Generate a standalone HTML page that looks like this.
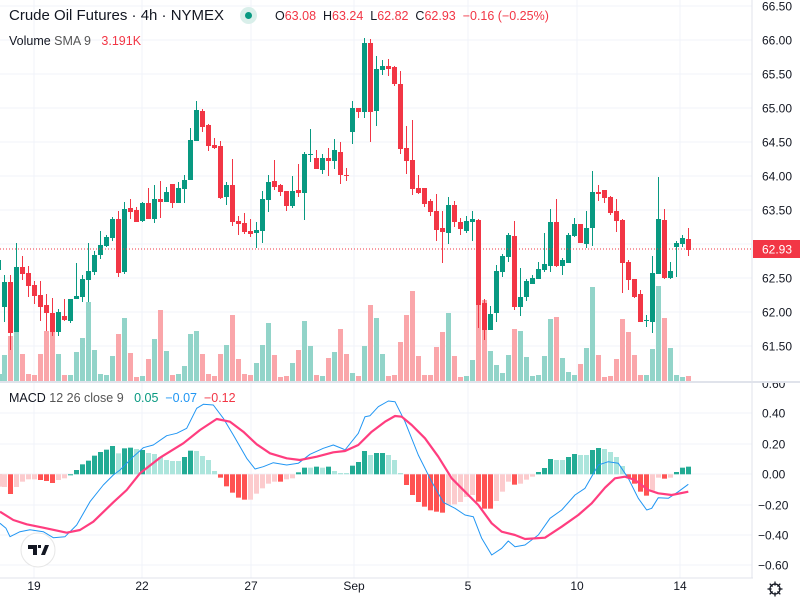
<!DOCTYPE html>
<html><head><meta charset="utf-8"><style>
body{margin:0;width:800px;height:600px;overflow:hidden;background:#fff;font-family:"Liberation Sans",sans-serif;}
svg{position:absolute;left:0;top:0}
.t{position:absolute;white-space:nowrap;color:#131722}
</style></head><body>
<svg id="s" width="800" height="600" xmlns="http://www.w3.org/2000/svg"></svg>
<div class="t" style="left:9px;top:7px;font-size:15px">Crude Oil Futures · 4h · NYMEX</div>
<div style="position:absolute;left:240px;top:7px;width:17px;height:17px;border-radius:50%;background:#d9efea"></div>
<div style="position:absolute;left:245px;top:12px;width:7px;height:7px;border-radius:50%;background:#089981"></div>
<div class="t" style="left:275px;top:9px;font-size:12.5px">O<span style="color:#F23645">63.08</span>&nbsp;&nbsp;H<span style="color:#F23645">63.24</span>&nbsp;&nbsp;L<span style="color:#F23645">62.82</span>&nbsp;&nbsp;C<span style="color:#F23645">62.93</span>&nbsp;&nbsp;<span style="color:#F23645">−0.16 (−0.25%)</span></div>
<div class="t" style="left:9px;top:34px;font-size:12.5px">Volume <span style="color:#555">SMA 9</span>&nbsp;&nbsp;&nbsp;<span style="color:#F23645">3.191K</span></div>
<div class="t" style="left:9px;top:391px;font-size:12.5px">MACD <span style="color:#555">12 26 close 9</span>&nbsp;&nbsp;&nbsp;<span style="color:#089981">0.05</span>&nbsp;&nbsp;<span style="color:#2196f3">−0.07</span>&nbsp;&nbsp;<span style="color:#F23645">−0.12</span></div>
<script>
var S=document.getElementById('s'),h='';
function r(x,y,w,hh,c){h+='<rect x="'+x+'" y="'+y+'" width="'+w+'" height="'+hh+'" fill="'+c+'"/>';}
function l(x1,y1,x2,y2,c,w,d){h+='<line x1="'+x1+'" y1="'+y1+'" x2="'+x2+'" y2="'+y2+'" stroke="'+c+'" stroke-width="'+(w||1)+'"'+(d?' stroke-dasharray="'+d+'"':'')+'/>';}
function tx(x,y,s,c,sz,a){h+='<text x="'+x+'" y="'+y+'" fill="'+(c||'#131722')+'" font-size="'+(sz||12)+'" font-family="Liberation Sans,sans-serif"'+(a?' text-anchor="'+a+'"':'')+'>'+s+'</text>';}
var G='#f0f3fa';
[6,40,74,108,142,176,210,244,278,312,346].forEach(function(y){l(0,y,752,y,G);});
[413,444,474,505,535,565].forEach(function(y){l(0,y,752,y,G);});
[34,142,251,354,468,577,680].forEach(function(x){l(x,0,x,578,G);});
var C=[['g',307,282,275,322],['r',282,333,275,350],['g',332,267,243,332],['r',267,274,256,280],['r',273,286,266,297],['r',285,296,281,304],['r',295,307,281,321],['r',305,313,294,331],['r',313,332,298,336],['g',332,312,309,336],
['r',316,320,299,321],['g',321,299,299,323],['g',299,296,263,299],['g',297,279,275,302],['g',280,271,243,302],['g',272,255,251,275],['g',255,245,231,259],['g',246,237,235,247],['g',238,219,217,241],['r',219,273,211,277],
['g',272,209,202,274],['r',208,212,199,219],['r',210,222,207,222],['g',221,203,202,222],['r',203,219,188,219],['g',219,199,185,223],['r',199,202,181,218],['g',202,192,187,202],['r',184,203,184,208],['g',203,188,182,203],
['g',189,180,175,203],['g',180,140,128,180],['g',141,110,101,141],['r',111,127,109,132],['r',125,146,124,151],['r',145,148,138,149],['r',146,198,141,199],['g',197,185,182,205],['r',185,222,159,226],['r',221,224,216,235],
['r',223,232,213,234],['r',231,234,219,237],['g',233,230,222,248],['g',231,199,191,243],['g',200,182,175,212],['r',181,187,160,190],['r',185,192,184,196],['r',191,206,191,211],['g',206,191,176,208],['r',190,193,164,197],
['g',193,154,152,220],['g',155,154,129,162],['r',158,169,150,169],['g',170,158,154,174],['r',158,161,148,176],['g',161,150,139,169],['r',152,175,142,184],['r',175,176,168,181],['g',132,108,101,144],['r',108,112,108,118],
['g',112,43,38,118],['r',43,112,39,142],['g',111,69,56,126],['g',70,66,60,75],['r',66,69,59,76],['r',67,84,66,86],['r',84,149,71,154],['r',148,161,126,174],['r',160,189,120,195],['r',188,193,175,194],
['r',188,204,188,207],['r',201,212,199,216],['r',211,230,194,241],['r',228,232,211,263],['g',233,205,197,244],['r',205,222,201,227],['r',222,229,218,235],['g',231,221,216,233],['g',222,219,211,241],['r',220,305,219,328],
['r',303,330,299,340],['g',330,314,306,330],['g',313,271,265,322],['g',272,256,254,277],['g',257,235,233,262],['r',236,307,221,310],['g',307,297,268,316],['g',297,281,279,301],['g',284,278,275,284],['g',279,269,262,279],
['g',270,264,233,272],['g',266,222,209,272],['r',222,266,199,267],['g',266,260,258,275],['g',263,235,233,263],['g',236,224,218,237],['r',224,243,224,243],['g',244,228,211,248],['g',228,192,171,246],['r',192,194,185,201],
['r',190,198,190,203],['r',197,213,196,215],['r',211,221,199,232],['r',220,263,219,293],['r',262,280,260,290],['r',279,297,279,298],['r',294,322,290,322],['g',321,320,315,327],['g',322,273,256,333],['g',274,219,177,274],
['r',220,278,209,279],['g',278,271,262,279],['g',247,243,241,277],['g',244,238,235,247],['r',239,250,228,256]];
var V=[['g',225],['r',168],['g',155],['r',222],['r',282],['r',285],['r',222],['r',153],['r',153],['g',222],['r',285],['g',285],['g',216],['g',174],['g',66],['g',210],['g',282],['g',285],['g',228],['r',162],['g',114],['r',219],['r',291],['g',288],['r',237],['g',177],['r',90],['g',213],['r',285],['g',282],['g',258],['g',162],['g',153],['r',222],['r',282],['r',288],['r',222],['g',195],['r',105],['r',237],['r',282],['r',285],['g',249],['g',195],['g',129],['r',225],['r',291],['r',288],['g',249],['r',210],['g',123],['g',198],['r',285],['g',288],['r',234],['g',216],['r',147],['r',222],
['g',279],['r',288],['g',198],['r',75],['g',114],['g',222],['r',288],['r',285],['r',186],['r',105],['r',33],['r',228],['r',285],['r',285],['r',201],['r',156],['g',99],['r',228],['r',291],['g',288],['g',240],['r',57],['r',60],['g',213],['g',255],['g',279],['g',225],['r',147],['g',153],['g',231],['g',288],['g',285],['g',228],['g',117],['r',111],['g',234],['g',276],['g',285],['r',252],['g',204],['g',21],['r',225],['r',291],['r',288],['r',237],['r',117],['r',156],['r',225],['r',285],['g',285],['g',207],['g',18],['r',114],['g',204],['g',285],['g',291],['r',288]];
r(0,280+282/3,2,381-280-94,'#8fd3c7');
V.forEach(function(v,i){var x=2+6*i,y=280+v[1]/3;r(x,y,5,381-y,v[0]=='g'?'#92d4c9':'#faa6aa');});
r(0,260,1,10,'#089981');
C.forEach(function(c,i){var cx=4.5+6*i,col=c[0]=='g'?'#089981':'#F23645';l(cx,c[3],cx,c[4],col,1);var t=Math.min(c[1],c[2]),b=Math.max(c[1],c[2]);r(cx-2.5,t,5,Math.max(1,b-t),col);});
l(0,249,752,249,'#F23645',1,'1,2');
var M='p276 R297 p276 p260 p253 p253 R255 R258 R264 p255 p250 s238 s225 s208 s197 s182 s171 s164 s153 l175 s160 s158 l162 s165 l174 l177 l186 l195 l198 l198 s186 s167 l168 l183 l195 l228 R248 R274 R293 R308 R314 p314 p296 p280 p266 p260 R260 p253 p250 s232 s218 l218 s215 l218 s215 l228 l234 l234 s212 s201 s168 l180 s174 s174 l180 l195 l234 R270 R300 R321 R335 R346 R350 R353 p330 p328 p321 p306 p300 R320 R341 R341 p318 p290 p260 R269 p266 p254 p245 s231 s219 s192 l195 l195 s186 s177 l180 l180 s165 s159 l162 l171 l186 l213 R248 R266 R290 R302 p287 p248 R251 p248 s231 s218 s215'.split(' ');
var cols={s:'#22ab94',l:'#ace5dc',R:'#ff5252',p:'#fccbcd'};
r(0,474,2,(276-238)/3,'#fccbcd');
M.forEach(function(m,i){var y=395+(+m.slice(1))/3,z=474.3,x=2+6*i;var t=Math.min(y,z),b=Math.max(y,z);r(x,t,5,Math.max(1,b-t),cols[m[0]]);});
function path(a,b,col,w){var p=[];a.forEach(function(q){p.push((q[0]/3).toFixed(1)+','+(395+q[1]/3).toFixed(1));});b.forEach(function(q){p.push((345+q[0]/3).toFixed(1)+','+(395+q[1]/3).toFixed(1));});h+='<polyline points="'+p.join(' ')+'" fill="none" stroke="'+col+'" stroke-width="'+w+'" stroke-linejoin="round"/>';}
path([[0,385],[18,400],[30,425],[60,410],[90,404],[130,410],[160,428],[195,425],[230,390],[270,320],[310,270],[340,240],[360,225],[400,185],[430,158],[460,150],[500,122],[530,115],[560,100],[590,40],[610,28],[640,30],[670,70],[700,120],[740,190],[765,222],[790,215],[820,203],[860,210],[895,205],[930,178],[970,160],[1000,150],[1030,162]],
[[0,165],[40,115],[60,65],[75,62],[100,35],[130,18],[150,20],[180,80],[220,180],[260,260],[295,322],[330,340],[360,360],[385,365],[410,430],[440,480],[470,460],[490,438],[510,455],[540,450],[580,420],[615,370],[650,345],[690,300],[720,280],[760,210],[790,200],[820,205],[850,250],[880,310],[905,345],[920,340],[940,308],[970,310],[1000,290],[1030,268]],'#2196f3',1);
path([[0,350],[40,375],[80,388],[130,398],[200,413],[240,405],[280,380],[340,322],[380,285],[420,235],[480,188],[550,145],[600,105],[650,72],[690,80],[730,110],[770,148],[810,175],[860,190],[900,195],[950,185],[1000,172]],
[[0,168],[40,150],[80,110],[120,80],[150,63],[170,65],[200,90],[240,130],[280,185],[320,250],[360,290],[400,330],[440,385],[470,410],[510,420],[540,432],[600,428],[650,395],[700,360],[740,325],[780,278],[810,250],[840,245],[870,255],[910,285],[940,295],[980,300],[1030,290]],'#ff3d7f',2.2);
r(0,381,800,2,'#e0e3eb');
l(752,0,752,578,'#e0e3eb');
l(0,578,800,578,'#e0e3eb');
r(753,0,47,600,'#fff');r(0,579,753,21,'#fff');
tx(762,388,'0.60','#131722',12);
r(753,360,47,23,'#fff');
r(753,381,47,2,'#e0e3eb');
var P=[[6,'66.50'],[40,'66.00'],[74,'65.50'],[108,'65.00'],[142,'64.50'],[176,'64.00'],[210,'63.50'],[278,'62.50'],[312,'62.00'],[346,'61.50']];
P.forEach(function(p){tx(762,p[0]+4.5,p[1],'#131722',12);});
[[413,'0.40'],[444,'0.20'],[474,'0.00'],[505,'−0.20'],[535,'−0.40'],[565,'−0.60']].forEach(function(p){tx(p[1][0]=='−'?758:762,p[0]+4.5,p[1],'#131722',12);});
r(753,240,47,18,'#F23645');tx(762,253.5,'62.93','#fff',12);
[[34,'19'],[142,'22'],[251,'27'],[354,'Sep'],[468,'5'],[577,'10'],[680,'14']].forEach(function(p){tx(p[0],590,p[1],'#131722',12,'middle');});
h+='<circle cx="775" cy="589" r="5" fill="none" stroke="#131722" stroke-width="1.3"/>';
[0,45,90,135].forEach(function(a){var rad=a*Math.PI/180,dx=Math.cos(rad)*7.5,dy=Math.sin(rad)*7.5;l(775-dx,589-dy,775+dx,589+dy,'#131722',1.3);});
h+='<circle cx="775" cy="589" r="3.5" fill="#fff"/>';
h+='<circle cx="38" cy="550" r="17" fill="#fff" stroke="#e6e6e6"/>';
h+='<path d="M28 545h9v10h-4v-6h-5z M38 545h3v3h-3z M41 555l4-10h4l-4 10z" fill="#131722"/>';
S.innerHTML=h;
</script>
</body></html>
